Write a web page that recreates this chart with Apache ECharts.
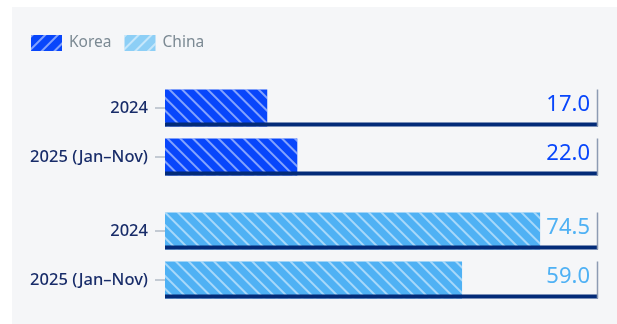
<!DOCTYPE html>
<html>
<head>
<meta charset="utf-8">
<script src="https://cdn.jsdelivr.net/npm/echarts@6/dist/echarts.min.js"></script>
<style>
  html, body { margin: 0; padding: 0; background: #fff; }
  #chart { position: absolute; left: 12px; top: 7px; width: 605px; height: 317px; background: #f5f6f8; }
</style>
</head>
<body>
<div id="chart"></div>
<script>
const categories = ['2024', '2025 (Jan–Nov)']
const koreaValues = [17.0, 22.0]
const chinaValues = [74.5, 59.0]
const koreaMax = 72
const chinaMax = 86

const FONT = '"Noto Sans", sans-serif'
const KOREA_COLOR = '#0846fb'
const CHINA_COLOR = '#4fb1f4'
const NAVY = '#032b78'
const BAR_W = 37

const stripes = (rot) => ({
  symbol: 'rect',
  symbolSize: 1,
  color: 'rgba(255,255,255,0.5)',
  dashArrayX: [1, 0],
  dashArrayY: [1.2, 6.6],
  rotation: rot
})

// underline, right end tick and value label for each row
function trackRenderer(max, color) {
  return function (params, api) {
    const i = api.value(0)
    const start = api.coord([0, i])
    const end = api.coord([max, i])
    const cy = start[1]
    const top = cy - BAR_W / 2
    const bottom = cy + BAR_W / 2
    return {
      type: 'group',
      children: [
        { type: 'rect', shape: { x: start[0], y: bottom - 4, width: end[0] - start[0], height: 4 }, style: { fill: NAVY } },
        { type: 'line', shape: { x1: end[0] - 0.5, y1: top, x2: end[0] - 0.5, y2: bottom }, style: { stroke: '#8d9bb3', lineWidth: 1.5 } },
        {
          type: 'text',
          style: {
            text: api.value(1).toFixed(1), x: end[0] - 8, y: cy - 3,
            align: 'right', verticalAlign: 'middle',
            fontSize: 22, fontFamily: FONT, fill: color
          }
        }
      ]
    }
  }
}

const yAxisBase = (gridIndex) => ({
  type: 'category',
  gridIndex,
  data: categories,
  inverse: true,
  axisLine: { show: false },
  axisTick: { show: true, alignWithLabel: true, length: 10, lineStyle: { color: '#b3bcc6', width: 1.5 } },
  axisLabel: { margin: 17, color: '#182c69', fontSize: 16.5, fontFamily: FONT, fontWeight: 500 }
})

const xAxisBase = (gridIndex, max) => ({
  type: 'value', gridIndex, min: 0, max, show: false
})

const chart = echarts.init(document.getElementById('chart'))
chart.setOption({
  animation: false,
  legend: {
    left: 14, top: 23,
    itemWidth: 31, itemHeight: 16, itemGap: 13,
    icon: 'rect',
    textStyle: { color: '#7b8993', fontSize: 15.5, fontFamily: FONT, padding: [0, 0, 0, 2] },
    data: [
      { name: 'Korea', itemStyle: { color: KOREA_COLOR, decal: stripes(-Math.PI / 4) } },
      { name: 'China', itemStyle: { color: '#8dcff6', decal: stripes(-Math.PI / 4) } }
    ]
  },
  grid: [
    { left: 153, right: 19, top: 76.5, height: 98 },
    { left: 153, right: 19, top: 199.5, height: 98 }
  ],
  xAxis: [xAxisBase(0, koreaMax), xAxisBase(1, chinaMax)],
  yAxis: [yAxisBase(0), yAxisBase(1)],
  series: [
    {
      name: 'Korea', type: 'bar', xAxisIndex: 0, yAxisIndex: 0,
      barWidth: BAR_W, data: koreaValues,
      itemStyle: { color: KOREA_COLOR, decal: stripes(Math.PI / 4) }
    },
    {
      name: 'China', type: 'bar', xAxisIndex: 1, yAxisIndex: 1,
      barWidth: BAR_W, data: chinaValues,
      itemStyle: { color: CHINA_COLOR, decal: stripes(Math.PI / 4) }
    },
    {
      type: 'custom', xAxisIndex: 0, yAxisIndex: 0, z: 5, silent: true,
      renderItem: trackRenderer(koreaMax, KOREA_COLOR),
      data: koreaValues.map((v, i) => [i, v])
    },
    {
      type: 'custom', xAxisIndex: 1, yAxisIndex: 1, z: 5, silent: true,
      renderItem: trackRenderer(chinaMax, CHINA_COLOR),
      data: chinaValues.map((v, i) => [i, v])
    }
  ]
})
</script>
</body>
</html>
